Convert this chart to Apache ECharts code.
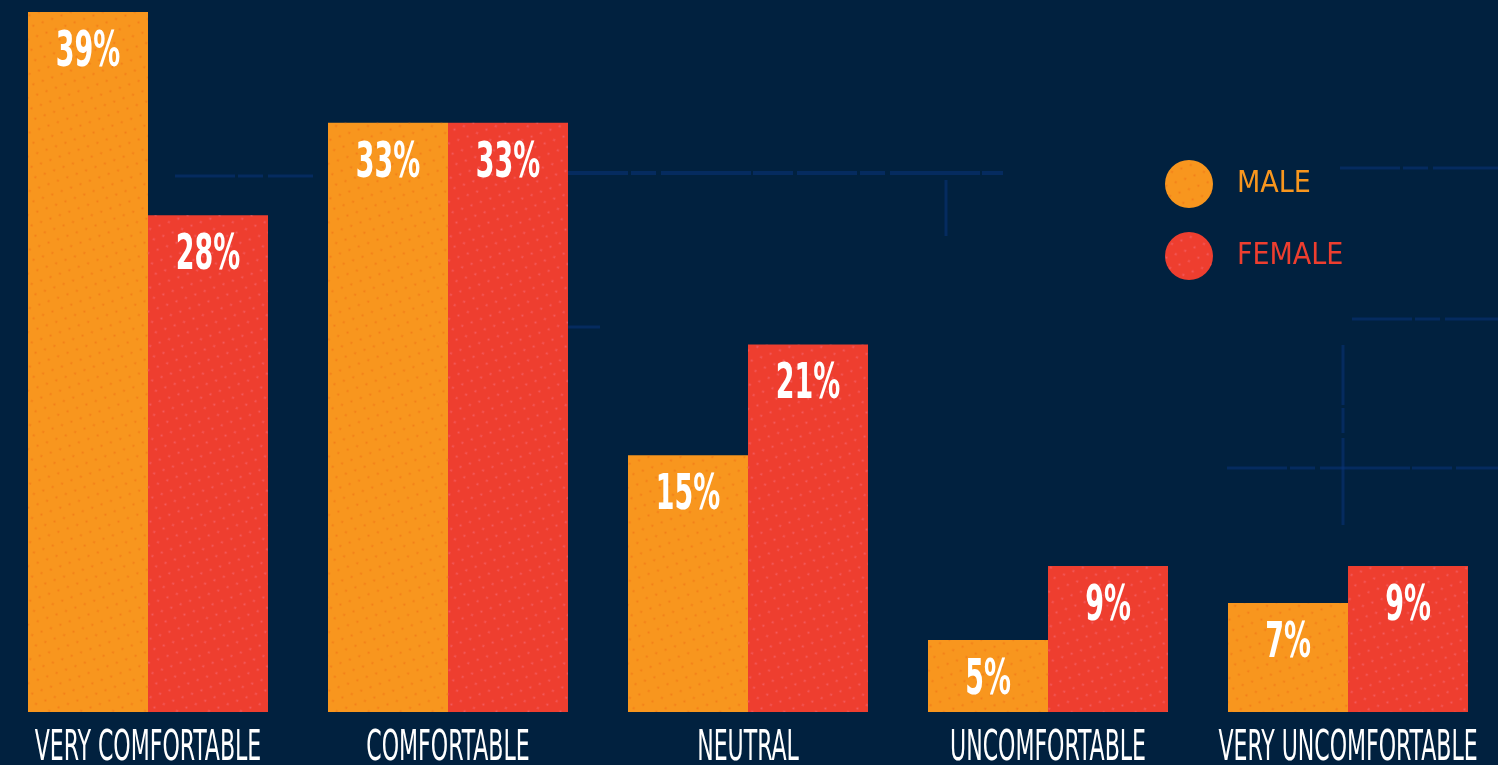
<!DOCTYPE html>
<html>
<head>
<meta charset="utf-8">
<title>Comfort level by gender</title>
<script src="https://cdn.jsdelivr.net/npm/echarts@6/dist/echarts.min.js"></script>
<style>
  html, body { margin: 0; padding: 0; background: #01213f; }
  #chart { width: 1498px; height: 765px; }
</style>
</head>
<body>
<div id="chart"></div>
<script>
// Survey answers, share of respondents (%)
const categories = ['VERY COMFORTABLE', 'COMFORTABLE', 'NEUTRAL', 'UNCOMFORTABLE', 'VERY UNCOMFORTABLE'];
const seriesNames = ['MALE', 'FEMALE'];
const maleValues = [39, 33, 15, 5, 7];
const femaleValues = [28, 33, 21, 9, 9];

const ORANGE = '#f8961e';
const RED = '#ee3e2f';
const FONT = "'Liberation Sans Narrow', 'DejaVu Sans Condensed', sans-serif";
const BAR_W = 120;
const Y_MIN = 1.1;
const Y_MAX = 39;

const chart = echarts.init(document.getElementById('chart'), null, { renderer: 'canvas' });

// value labels (condensed white numbers) drawn inside the top of each bar
function valueLabelSeries(values, side, name) {
  return {
    type: 'custom',
    name: name + ' labels',
    z: 10,
    silent: true,
    data: values.map((v, i) => [i, v]),
    renderItem: function (params, api) {
      const p = api.coord([api.value(0), api.value(1)]);
      return {
        type: 'text',
        x: p[0] + side * BAR_W / 2,
        y: p[1] + 41,
        scaleX: 0.61,
        style: {
          text: api.value(1) + '%',
          fill: '#ffffff',
          fontSize: 49,
          fontWeight: 'bold',
          fontFamily: FONT,
          align: 'center',
          verticalAlign: 'middle'
        }
      };
    }
  };
}

// category names under each pair of bars
const categoryLabelSeries = {
  type: 'custom',
  name: 'category labels',
  z: 10,
  silent: true,
  data: categories.map((c, i) => [i, Y_MIN]),
  renderItem: function (params, api) {
    const p = api.coord([api.value(0), api.value(1)]);
    return {
      type: 'text',
      x: p[0],
      y: p[1] + 37,
      scaleX: 0.57,
      style: {
        text: categories[params.dataIndex],
        fill: '#ffffff',
        fontSize: 43,
        fontFamily: FONT,
        align: 'center',
        verticalAlign: 'middle'
      }
    };
  }
};

// faint broken grunge strokes in the backdrop
const grunge = [
  [175, 176, 313, 176, 3], [568, 173, 1003, 173, 4], [946, 180, 946, 236, 3],
  [1340, 168, 1498, 168, 3], [1352, 319, 1498, 319, 3], [1227, 468, 1498, 468, 3],
  [1343, 345, 1343, 525, 3], [568, 327, 600, 327, 3]
].map(l => ({
  type: 'line',
  z: -10,
  silent: true,
  shape: { x1: l[0], y1: l[1], x2: l[2], y2: l[3] },
  style: { stroke: '#0a3580', lineWidth: l[4], opacity: 0.5, lineDash: [60, 3, 25, 5, 90, 2, 40, 4] }
}));

const option = {
  backgroundColor: '#01213f',
  animation: false,
  graphic: grunge,
  legend: {
    orient: 'vertical',
    left: 1165,
    top: 160,
    padding: 0,
    icon: 'circle',
    itemWidth: 48,
    itemHeight: 48,
    itemGap: 24,
    selectedMode: false,
    textStyle: { fontSize: 30, fontFamily: FONT, padding: [4, 0, 0, 19] },
    data: [
      { name: seriesNames[0], textStyle: { color: ORANGE } },
      { name: seriesNames[1], textStyle: { color: RED } }
    ]
  },
  grid: { left: -2, right: 0, top: 12, bottom: 53, containLabel: false, outerBoundsMode: 'none' },
  xAxis: {
    type: 'category',
    data: categories,
    axisLine: { show: false },
    axisTick: { show: false },
    axisLabel: { show: false },
    splitLine: { show: false }
  },
  yAxis: {
    type: 'value',
    min: Y_MIN,
    max: Y_MAX,
    show: false,
    splitLine: { show: false }
  },
  series: [
    {
      name: seriesNames[0],
      type: 'bar',
      data: maleValues,
      barWidth: BAR_W,
      barGap: 0,
      clip: true,
      itemStyle: {
        color: ORANGE,
        decal: {
          symbol: 'circle',
          symbolSize: 0.45,
          color: 'rgba(238,112,22,0.65)',
          dashArrayX: [[5, 5]],
          dashArrayY: [5, 6],
          rotation: -0.35
        }
      }
    },
    {
      name: seriesNames[1],
      type: 'bar',
      data: femaleValues,
      barWidth: BAR_W,
      barGap: 0,
      clip: true,
      itemStyle: {
        color: RED,
        decal: {
          symbol: 'circle',
          symbolSize: 0.45,
          color: 'rgba(246,110,125,0.6)',
          dashArrayX: [[5, 5]],
          dashArrayY: [5, 6],
          rotation: -0.35
        }
      }
    },
    valueLabelSeries(maleValues, -1, seriesNames[0]),
    valueLabelSeries(femaleValues, 1, seriesNames[1]),
    categoryLabelSeries
  ]
};

chart.setOption(option);
</script>
</body>
</html>
